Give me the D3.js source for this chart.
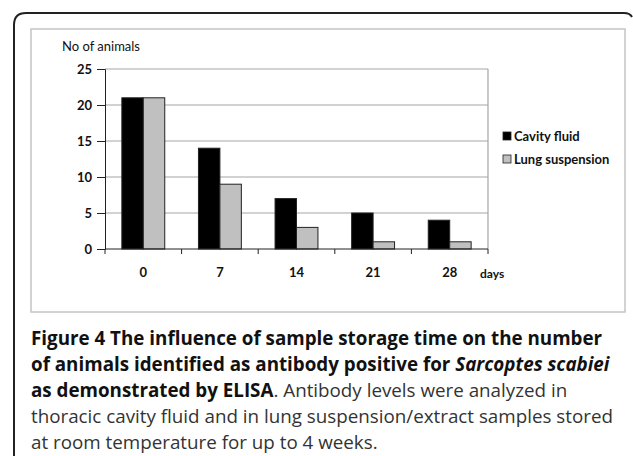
<!DOCTYPE html>
<html>
<head>
<meta charset="utf-8">
<script src="https://cdn.jsdelivr.net/npm/d3@7"></script>
<style>
  body { margin: 0; background: #fff; }
  svg { display: block; }
</style>
</head>
<body>
<div id="chart-area"></div>
<script>
// data
const days = ["0", "7", "14", "21", "28"]
const cavityFluid = [21, 14, 7, 5, 4]
const lungSuspension = [21, 9, 3, 1, 1]
const seriesNames = ["Cavity fluid", "Lung suspension"]
const seriesColors = ["#000000", "#c0c0c0"]
const yTicks = [0, 5, 10, 15, 20, 25]

const W = 633, H = 456
const PLOT = { LEFT: 105, RIGHT: 488, TOP: 69, BOTTOM: 249 }
const CHART_FONT = "Lato, 'Open Sans', sans-serif"

const svg = d3.select("#chart-area").append("svg")
  .attr("width", W)
  .attr("height", H)

// outer frame (rounded top-left corner, runs off right and bottom)
svg.append("path")
  .attr("d", "M14,470 L14,25 Q14,13 26,13 L624,13 Q630,13 632,17")
  .attr("fill", "none")
  .attr("stroke", "#222")
  .attr("stroke-width", 2)

// grey chart box
svg.append("rect")
  .attr("x", 31).attr("y", 29)
  .attr("width", 594).attr("height", 283)
  .attr("fill", "#fff")
  .attr("stroke", "#c4c4c4")
  .attr("stroke-width", 1.5)

const x = d3.scaleBand()
  .domain(days)
  .range([PLOT.LEFT, PLOT.RIGHT])
  .paddingInner(0.44)
  .paddingOuter(0.22)

const x1 = d3.scaleBand()
  .domain(seriesNames)
  .range([0, x.bandwidth()])

const y = d3.scaleLinear()
  .domain([0, 25])
  .range([PLOT.BOTTOM, PLOT.TOP])

const g = svg.append("g")

// gridlines
g.selectAll(".grid")
  .data(yTicks.filter(d => d > 0))
  .enter().append("line")
  .attr("x1", PLOT.LEFT).attr("x2", PLOT.RIGHT)
  .attr("y1", d => y(d)).attr("y2", d => y(d))
  .attr("stroke", "#a6a6a6")
  .attr("stroke-width", 1.2)

// right border of plot area
g.append("line")
  .attr("x1", PLOT.RIGHT).attr("x2", PLOT.RIGHT)
  .attr("y1", PLOT.TOP).attr("y2", PLOT.BOTTOM)
  .attr("stroke", "#a6a6a6")
  .attr("stroke-width", 1.2)

// bars
const rows = days.map((d, i) => ({ day: d, values: [cavityFluid[i], lungSuspension[i]] }))

const groups = g.selectAll(".day")
  .data(rows)
  .enter().append("g")
  .attr("transform", d => `translate(${x(d.day)},0)`)

groups.selectAll("rect")
  .data(d => d.values.map((v, j) => ({ name: seriesNames[j], value: v, color: seriesColors[j] })))
  .enter().append("rect")
  .attr("x", d => x1(d.name))
  .attr("y", d => y(d.value))
  .attr("width", x1.bandwidth())
  .attr("height", d => y(0) - y(d.value))
  .attr("fill", d => d.color)
  .attr("stroke", "#222")
  .attr("stroke-width", 1)

// y axis
const yAxis = g.append("g")
  .attr("transform", `translate(${PLOT.LEFT},0)`)
  .call(d3.axisLeft(y).tickValues(yTicks).tickSize(8).tickPadding(5))
yAxis.select(".domain").attr("stroke", "#222")
yAxis.selectAll(".tick line").attr("stroke", "#222")
yAxis.selectAll("text")
  .attr("font-family", CHART_FONT)
  .attr("font-size", 13)
  .attr("font-weight", "bold")
  .attr("fill", "#111")

// x axis: ticks sit between categories
const xAxis = g.append("g")
  .attr("transform", `translate(0,${PLOT.BOTTOM})`)
xAxis.append("line")
  .attr("x1", PLOT.LEFT).attr("x2", PLOT.RIGHT)
  .attr("stroke", "#222")
const step = x.step()
xAxis.selectAll(".sep")
  .data(d3.range(days.length + 1))
  .enter().append("line")
  .attr("x1", i => PLOT.LEFT + i * step).attr("x2", i => PLOT.LEFT + i * step)
  .attr("y1", 0).attr("y2", 5)
  .attr("stroke", "#222")
xAxis.selectAll(".lbl")
  .data(days)
  .enter().append("text")
  .attr("x", d => x(d) + x.bandwidth() / 2)
  .attr("y", 28)
  .attr("text-anchor", "middle")
  .attr("font-family", CHART_FONT)
  .attr("font-size", 13)
  .attr("font-weight", "bold")
  .attr("fill", "#111")
  .text(d => d)

// axis titles
svg.append("text")
  .attr("x", 62).attr("y", 51)
  .attr("font-family", CHART_FONT)
  .attr("font-size", 13)
  .attr("fill", "#111")
  .text("No of animals")

svg.append("text")
  .attr("x", 480).attr("y", 278)
  .attr("font-family", CHART_FONT)
  .attr("font-size", 12)
  .attr("font-weight", "bold")
  .attr("fill", "#111")
  .text("days")

// legend
const legend = svg.selectAll(".legend")
  .data(seriesNames)
  .enter().append("g")
  .attr("transform", (d, i) => `translate(503,${136 + i * 23})`)
legend.append("rect")
  .attr("x", 0).attr("y", -4)
  .attr("width", 8).attr("height", 8)
  .attr("fill", (d, i) => seriesColors[i])
  .attr("stroke", "#222")
  .attr("stroke-width", 0.8)
legend.append("text")
  .attr("x", 11).attr("y", 4.5)
  .attr("font-family", CHART_FONT)
  .attr("font-size", 13)
  .attr("font-weight", "bold")
  .attr("fill", "#111")
  .text(d => d)

// caption
const captionLines = [
  [{ t: "Figure 4 The influence of sample storage time on the number", b: true }],
  [{ t: "of animals identified as antibody positive for ", b: true }, { t: "Sarcoptes scabiei", b: true, i: true }],
  [{ t: "as demonstrated by ELISA", b: true }, { t: ". Antibody levels were analyzed in" }],
  [{ t: "thoracic cavity fluid and in lung suspension/extract samples stored" }],
  [{ t: "at room temperature for up to 4 weeks." }]
]

const caption = svg.append("g")
  .attr("font-family", "'Open Sans', sans-serif")
  .attr("font-size", 18.8)
  .attr("fill", "#222")

captionLines.forEach((line, k) => {
  const txt = caption.append("text")
    .attr("x", 31)
    .attr("y", 345 + k * 26)
  line.forEach(part => {
    txt.append("tspan")
      .attr("font-weight", part.b ? "bold" : "normal")
      .attr("font-style", part.i ? "italic" : "normal")
      .attr("fill", part.b ? "#111" : "#333")
      .text(part.t)
  })
})
</script>
</body>
</html>
